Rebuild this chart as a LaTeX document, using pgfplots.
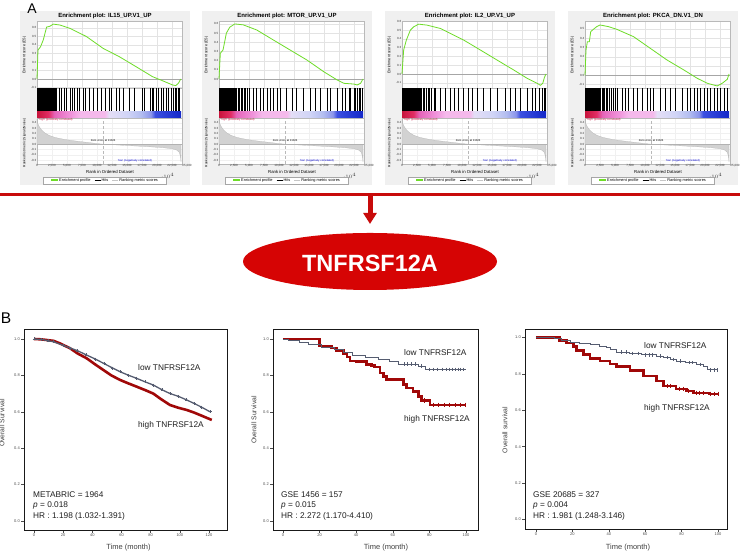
\documentclass[border=0pt]{standalone}
\usepackage{pgfplots}
\pgfplotsset{compat=1.18}
\usepackage{pgfplotstable}
\usepackage{fontspec}
\setmainfont{Liberation Sans}
\usetikzlibrary{arrows.meta}

\definecolor{gsgreen}{RGB}{110,220,40}
\definecolor{lowc}{RGB}{85,92,112}
\definecolor{highc}{RGB}{160,8,8}
\definecolor{redline}{RGB}{200,10,10}
\definecolor{ellred}{RGB}{214,4,4}
\definecolor{gseabg}{RGB}{240,240,240}
\definecolor{barA}{RGB}{200,20,60}
\definecolor{barA2}{RGB}{225,45,100}
\definecolor{barB}{RGB}{230,100,185}
\definecolor{barB2}{RGB}{240,150,220}
\definecolor{barC}{RGB}{245,185,235}
\definecolor{barD}{RGB}{228,222,246}
\definecolor{barD2}{RGB}{208,212,246}
\definecolor{barE}{RGB}{180,190,240}
\definecolor{barE2}{RGB}{140,150,235}
\definecolor{barF}{RGB}{60,80,225}
\definecolor{barG}{RGB}{20,40,200}

\pgfdeclarehorizontalshading{gseabar}{100bp}{color(0bp)=(barA); color(25bp)=(barA); color(29bp)=(barA2); color(31bp)=(barB); color(37bp)=(barB2); color(40bp)=(barC); color(48.5bp)=(barC); color(50bp)=(barD); color(56.5bp)=(barD2); color(61bp)=(barE); color(64.5bp)=(barE2); color(66bp)=(barF); color(75bp)=(barG); color(100bp)=(barG)}

\newcommand{\fs}[1]{\fontsize{#1}{#1}\selectfont}

% ---------- GSEA data ----------
\pgfplotstableread[row sep=\\]{r e\\ 0 0\\ 166 0.34\\ 600 0.38\\ 1050 0.46\\ 1600 0.61\\ 2150 0.62\\ 2700 0.645\\ 3800 0.635\\ 5460 0.596\\ 8220 0.50\\ 11020 0.36\\ 13700 0.263\\ 16500 0.145\\ 19260 0.027\\ 20900 -0.02\\ 22580 -0.07\\ 23130 -0.078\\ 23570 -0.05\\ 23960 0\\}\esA
\pgfplotstableread[row sep=\\]{r e\\ 0 0\\ 220 0.28\\ 670 0.316\\ 1230 0.5\\ 1790 0.564\\ 2630 0.6\\ 4025 0.59\\ 6260 0.535\\ 9060 0.425\\ 11850 0.316\\ 14650 0.207\\ 17440 0.08\\ 19680 -0.01\\ 20800 -0.047\\ 22470 -0.055\\ 23030 -0.065\\ 23590 -0.047\\ 24000 0\\}\esB
\pgfplotstableread[row sep=\\]{r e\\ 0 0\\ 278 0.272\\ 723 0.385\\ 1390 0.498\\ 1946 0.536\\ 2780 0.566\\ 4170 0.555\\ 6390 0.517\\ 10290 0.385\\ 13070 0.272\\ 15850 0.158\\ 18630 0.045\\ 20850 -0.049\\ 22520 -0.106\\ 23070 -0.128\\ 23460 -0.106\\ 23740 -0.038\\ 24000 0\\}\esC
\pgfplotstableread[row sep=\\]{r e\\ 0 0\\ 170 0.273\\ 390 0.363\\ 725 0.363\\ 950 0.471\\ 1395 0.496\\ 1950 0.525\\ 2510 0.543\\ 3910 0.525\\ 5300 0.496\\ 8090 0.417\\ 10880 0.291\\ 13670 0.165\\ 16460 0.058\\ 18690 -0.032\\ 20370 -0.086\\ 22040 -0.115\\ 22880 -0.086\\ 23720 -0.043\\ 24000 0.014\\}\esD

\pgfplotstableread[row sep=\\]{r h\\ 20 1\\ 150 1\\ 280 1\\ 400 1\\ 520 1\\ 650 1\\ 780 1\\ 900 1\\ 1030 1\\ 1150 1\\ 1280 1\\ 1400 1\\ 1550 1\\ 1680 1\\ 1800 1\\ 1950 1\\ 2100 1\\ 2250 1\\ 2400 1\\ 2550 1\\ 2700 1\\ 2850 1\\ 3000 1\\ 3200 1\\ 3700 1\\ 4085 1\\ 4470 1\\ 4910 1\\ 5465 1\\ 5900 1\\ 6290 1\\ 6680 1\\ 7120 1\\ 7670 1\\ 8060 1\\ 8780 1\\ 9440 1\\ 9990 1\\ 10710 1\\ 11430 1\\ 11980 1\\ 12360 1\\ 13190 1\\ 13745 1\\ 14410 1\\ 15400 1\\ 16230 1\\ 17500 1\\ 17890 1\\ 18820 1\\ 19150 1\\ 19375 1\\ 19820 1\\ 20260 1\\ 20645 1\\ 21030 1\\ 21470 1\\ 21915 1\\ 22300 1\\ 22690 1\\ 23020 1\\ 23240 1\\ 23570 1\\ 23790 1\\}\hitsA
\pgfplotstableread[row sep=\\]{r h\\ 30 1\\ 180 1\\ 330 1\\ 480 1\\ 640 1\\ 800 1\\ 950 1\\ 1100 1\\ 1250 1\\ 1400 1\\ 1560 1\\ 1720 1\\ 1880 1\\ 2050 1\\ 2200 1\\ 2380 1\\ 2550 1\\ 2750 1\\ 2950 1\\ 3150 1\\ 3400 1\\ 3650 1\\ 3900 1\\ 4150 1\\ 4450 1\\ 4750 1\\ 5100 1\\ 5700 1\\ 6260 1\\ 6930 1\\ 7380 1\\ 8050 1\\ 8610 1\\ 9060 1\\ 9730 1\\ 10290 1\\ 11290 1\\ 12130 1\\ 12860 1\\ 14090 1\\ 15200 1\\ 16040 1\\ 16880 1\\ 18000 1\\ 18560 1\\ 19680 1\\ 20520 1\\ 21070 1\\ 21630 1\\ 21910 1\\ 22470 1\\ 22750 1\\ 23030 1\\ 23310 1\\ 23590 1\\ 23870 1\\}\hitsB
\pgfplotstableread[row sep=\\]{r h\\ 40 1\\ 200 1\\ 360 1\\ 520 1\\ 680 1\\ 840 1\\ 1000 1\\ 1160 1\\ 1320 1\\ 1480 1\\ 1640 1\\ 1800 1\\ 1960 1\\ 2130 1\\ 2300 1\\ 2470 1\\ 2650 1\\ 2850 1\\ 3050 1\\ 3250 1\\ 3500 1\\ 3750 1\\ 4000 1\\ 4300 1\\ 4600 1\\ 4950 1\\ 5300 1\\ 5550 1\\ 6390 1\\ 7230 1\\ 8060 1\\ 8730 1\\ 9450 1\\ 10290 1\\ 11120 1\\ 11680 1\\ 12510 1\\ 13620 1\\ 14730 1\\ 15850 1\\ 17240 1\\ 18070 1\\ 18900 1\\ 19740 1\\ 20850 1\\ 21680 1\\ 22240 1\\ 22800 1\\ 23350 1\\ 23630 1\\ 23910 1\\}\hitsC
\pgfplotstableread[row sep=\\]{r h\\ 30 1\\ 180 1\\ 330 1\\ 480 1\\ 630 1\\ 780 1\\ 930 1\\ 1080 1\\ 1230 1\\ 1400 1\\ 1560 1\\ 1720 1\\ 1880 1\\ 2050 1\\ 2220 1\\ 2400 1\\ 2600 1\\ 2800 1\\ 3000 1\\ 3250 1\\ 3500 1\\ 3750 1\\ 4000 1\\ 4300 1\\ 4650 1\\ 5000 1\\ 5300 1\\ 6140 1\\ 6700 1\\ 7250 1\\ 8090 1\\ 8760 1\\ 9490 1\\ 10320 1\\ 10880 1\\ 11440 1\\ 12560 1\\ 13390 1\\ 14230 1\\ 15070 1\\ 16180 1\\ 17020 1\\ 17580 1\\ 18140 1\\ 18690 1\\ 19250 1\\ 19810 1\\ 20370 1\\ 20930 1\\ 21480 1\\ 22040 1\\ 22600 1\\ 23160 1\\ 23720 1\\}\hitsD

\pgfplotstableread[row sep=\\]{r m\\ 0 0\\ 0 0.45\\ 150 0.38\\ 400 0.32\\ 800 0.26\\ 1300 0.21\\ 2000 0.165\\ 3000 0.125\\ 4500 0.09\\ 6000 0.065\\ 8000 0.038\\ 10000 0.012\\ 11024 0\\ 13000 -0.012\\ 15000 -0.025\\ 17000 -0.037\\ 19000 -0.05\\ 21000 -0.065\\ 22500 -0.085\\ 23300 -0.11\\ 23700 -0.15\\ 23900 -0.22\\ 24000 -0.33\\ 24000 0\\}\rankdata

% ---------- KM data ----------
\pgfplotstableread[row sep=\\]{t s\\ 0 1\\ 5 0.998\\ 10 0.99\\ 13.3 0.985\\ 20 0.965\\ 25 0.95\\ 30 0.935\\ 36 0.912\\ 42 0.89\\ 48 0.865\\ 54 0.84\\ 59 0.82\\ 65 0.80\\ 70 0.785\\ 76 0.765\\ 81.8 0.747\\ 88 0.72\\ 93.3 0.70\\ 99 0.685\\ 104.7 0.665\\ 110 0.645\\ 115 0.625\\ 120.7 0.60\\}\kmAlow
\pgfplotstableread[row sep=\\]{t s\\ 0 1\\ 5 0.998\\ 10 0.993\\ 13.3 0.99\\ 18 0.975\\ 24.7 0.949\\ 30 0.92\\ 36.1 0.894\\ 42 0.86\\ 47.5 0.83\\ 53 0.80\\ 59 0.775\\ 65 0.755\\ 70.4 0.738\\ 76 0.72\\ 81.8 0.70\\ 87 0.67\\ 93.3 0.637\\ 99 0.622\\ 104.7 0.61\\ 110 0.595\\ 116 0.575\\ 121.9 0.555\\}\kmAhigh

\pgfplotstableread[row sep=\\]{t s\\ 0 1\\ 3 0.99\\ 9 0.98\\ 14 0.97\\ 21 0.955\\ 28 0.94\\ 33 0.925\\ 38 0.912\\ 45 0.9\\ 52 0.89\\ 58 0.875\\ 63 0.862\\ 74 0.85\\ 78 0.833\\ 100 0.833\\}\kmBlow
\pgfplotstableread[row sep=\\]{t s\\ 66 0.862\\ 68 0.862\\ 70 0.862\\ 72 0.862\\ 75.5 0.85\\ 80 0.833\\ 82 0.833\\ 84.5 0.833\\ 87 0.833\\ 89 0.833\\ 91 0.833\\ 92.5 0.833\\ 94 0.833\\ 95.5 0.833\\ 97 0.833\\ 98.5 0.833\\}\kmBlowc
\pgfplotstableread[row sep=\\]{t s\\ 0 1\\ 20 0.962\\ 26.6 0.95\\ 29.3 0.937\\ 33 0.92\\ 35 0.9\\ 36.6 0.88\\ 40 0.876\\ 45.7 0.86\\ 48.5 0.853\\ 50 0.845\\ 53 0.813\\ 55 0.795\\ 56.7 0.777\\ 65.7 0.75\\ 67.5 0.73\\ 71 0.711\\ 74 0.683\\ 75.8 0.662\\ 80.3 0.638\\ 100 0.638\\}\kmBhigh
\pgfplotstableread[row sep=\\]{t s\\ 77 0.662\\ 82 0.638\\ 85 0.638\\ 88 0.638\\ 91 0.638\\ 94 0.638\\ 97 0.638\\ 99.5 0.638\\}\kmBhighc

\pgfplotstableread[row sep=\\]{t s\\ 0 1\\ 10 0.995\\ 14 0.985\\ 18.7 0.975\\ 24 0.968\\ 29.7 0.962\\ 35 0.952\\ 38.8 0.943\\ 41 0.932\\ 44.3 0.92\\ 51.6 0.912\\ 58 0.905\\ 66.3 0.897\\ 70 0.89\\ 74 0.88\\ 77 0.87\\ 82 0.862\\ 88 0.852\\ 92 0.84\\ 94 0.822\\ 100 0.822\\}\kmClow
\pgfplotstableread[row sep=\\]{t s\\ 47 0.92\\ 49.5 0.92\\ 53 0.912\\ 56 0.912\\ 60 0.905\\ 62 0.905\\ 64 0.905\\ 68 0.897\\ 72 0.89\\ 75.5 0.88\\ 79 0.87\\ 84 0.862\\ 86 0.862\\ 90 0.852\\ 96 0.822\\ 98 0.822\\ 99.5 0.822\\}\kmClowc
\pgfplotstableread[row sep=\\]{t s\\ 0 1\\ 13 0.985\\ 16.8 0.97\\ 20.5 0.952\\ 22.3 0.93\\ 26 0.907\\ 29.7 0.883\\ 35.2 0.87\\ 40.7 0.855\\ 44.3 0.839\\ 51.6 0.82\\ 59 0.788\\ 66.3 0.76\\ 70 0.733\\ 77 0.718\\ 82.8 0.705\\ 86.4 0.696\\ 95 0.69\\ 100 0.69\\}\kmChigh
\pgfplotstableread[row sep=\\]{t s\\ 72 0.733\\ 74 0.733\\ 79 0.718\\ 81 0.718\\ 84 0.705\\ 88 0.696\\ 90 0.696\\ 92 0.696\\ 96 0.69\\ 98 0.69\\ 100 0.69\\}\kmChighc

\pgfplotsset{
  gseabase/.style={scale only axis, anchor=north west, width=145.2pt, xmin=0, xmax=24200,
    axis line style={gray!55, line width=0.3pt}, major tick length=0pt,
    ticklabel style={font=\fs{3}, text=black!80, inner sep=0.6pt},
    /pgf/number format/assume math mode=true,
    axis background/.style={fill=white}, clip=false},
  gseaes/.style={gseabase, height=67pt, xtick={0,2500,...,22500}, xticklabels={},
    grid=major, grid style={gray!22, line width=0.25pt},
    yticklabel style={/pgf/number format/.cd, fixed, fixed zerofill, precision=1}},
  gseahits/.style={gseabase, height=30pt, ymin=0, ymax=1, xtick=\empty, ytick=\empty},
  gsearank/.style={gseabase, height=46pt, ymin=-0.369, ymax=0.488,
    ytick={-0.3,-0.2,-0.1,0,0.1,0.2,0.3,0.4},
    xtick={0,2500,5000,7500,10000,12500,15000,17500,20000,22500},
    xticklabels={0,{2,500},{5,000},{7,500},{10,000},{12,500},{15,000},{17,500},{20,000},{22,500}},
    yticklabel style={/pgf/number format/.cd, fixed, fixed zerofill, precision=1},
    grid=major, grid style={gray!12, line width=0.2pt}},
  kmbase/.style={scale only axis, anchor=north west,
    axis line style={black!90, line width=0.9pt},
    tick style={black!70, line width=0.4pt}, tick align=outside, major tick length=3pt,
    xtick pos=bottom, ytick pos=left,
    ticklabel style={font=\fs{4}, text=black!70, inner sep=1pt},
    /pgf/number format/assume math mode=true,
    ytick={0,0.2,0.4,0.6,0.8,1}, yticklabels={0.0,0.2,0.4,0.6,0.8,1.0},
    axis background/.style={fill=white}, clip=false},
}

\newcommand{\gseapanel}[7]{%
  \fill[gseabg] (#1pt-17pt,542pt) rectangle (#1pt+153pt,368pt);
  \node[font=\bfseries\fs{6}, inner sep=0pt] at (#1pt+68pt,537pt) {#2};
  \node[rotate=90, font=\fs{3.7}, inner sep=0pt] at (#1pt-12.5pt,498pt) {Enrichment score (ES)};
  \node[rotate=90, font=\fs{3.3}, inner sep=0pt] at (#1pt-12.5pt,410pt) {Ranked list metric (Signal2Noise)};
  \begin{axis}[gseaes, at={(#1pt,532pt)}, ymin=#3, ymax=#4, ytick={#5}]
    \draw[gray!70, line width=0.35pt] (axis cs:0,0) -- (axis cs:24200,0);
    \addplot[gsgreen, line width=0.8pt, mark=none] table {#6};
  \end{axis}
  \begin{axis}[gseahits, at={(#1pt,465pt)}]
    \addplot[ycomb, black, line width=0.5pt, mark=none] table {#7};
    \shade[shading=gseabar] (axis cs:0,0) rectangle (axis cs:24000,0.2);
  \end{axis}
  \begin{axis}[gsearank, at={(#1pt,435pt)}]
    \addplot[fill=gray!35, draw=gray!60, line width=0.2pt, mark=none] table {\rankdata};
    \draw[gray!60, line width=0.3pt] (axis cs:0,0) -- (axis cs:24200,0);
    \draw[gray!55, densely dashed, line width=0.3pt] (axis cs:11024,-0.369) -- (axis cs:11024,0.488);
    \node[font=\fs{2.8}, inner sep=0pt] at (axis cs:11024,0.07) {Zero cross at 11024};
    \node[font=\fs{2.8}, text=barA, anchor=west, inner sep=0pt] at (axis cs:250,0.455) {'high' (positively correlated)};
    \node[font=\fs{2.8}, text=blue!80!black, inner sep=0pt] at (axis cs:16300,-0.3) {'low' (negatively correlated)};
    \node[font=\fs{3}, anchor=north, inner sep=0.6pt, text=black!80] at (axis cs:25000,-0.369) {25,000};
  \end{axis}
  \node[font=\fs{4.3}, inner sep=0pt] at (#1pt+73pt,381pt) {Rank in Ordered Dataset};
  \node[draw=gray!70, fill=white, line width=0.3pt, minimum width=123pt, minimum height=7.5pt, inner sep=0.5pt, font=\fs{3.9}] at (#1pt+67.5pt,372.5pt) {\textcolor{gsgreen}{\rule[0.9pt]{7pt}{1.2pt}}~Enrichment profile\quad\rule[1.1pt]{6pt}{0.4pt}~Hits\quad\textcolor{gray!45}{\rule[0.9pt]{6pt}{0.9pt}}~Ranking metric scores};
}

\begin{document}
\begin{tikzpicture}
\path[use as bounding box] (0pt,0pt) rectangle (740pt,553pt);

% GSEA panels
\gseapanel{37}{Enrichment plot: IL15\_UP.V1\_UP}{-0.106}{0.682}{-0.1,0,0.1,0.2,0.3,0.4,0.5,0.6}{\esA}{\hitsA}
\gseapanel{219}{Enrichment plot: MTOR\_UP.V1\_UP}{-0.098}{0.632}{-0.1,0,0.1,0.2,0.3,0.4,0.5,0.6}{\esB}{\hitsB}
\gseapanel{402}{Enrichment plot: IL2\_UP.V1\_UP}{-0.159}{0.602}{-0.1,0,0.1,0.2,0.3,0.4,0.5,0.6}{\esC}{\hitsC}
\gseapanel{585}{Enrichment plot: PKCA\_DN.V1\_DN}{-0.137}{0.586}{-0.1,0,0.1,0.2,0.3,0.4,0.5}{\esD}{\hitsD}

% panel letters (drawn on top)
\node[font=\fs{14}, inner sep=0pt, anchor=base] at (32pt,539.5pt) {A};
\node[font=\fs{15.5}, inner sep=0pt] at (6pt,235pt) {B};

% red line, arrow, ellipse
\draw[redline, line width=3pt] (0pt,358pt) -- (740pt,358pt);
\draw[redline, line width=5pt, -{Triangle[width=13pt,length=11pt]}] (370pt,358pt) -- (370pt,329pt);
\fill[ellred] (370pt,291.5pt) ellipse [x radius=127pt, y radius=28.5pt];
\node[text=white, font=\bfseries\fs{23.5}, inner sep=0pt] at (370pt,290pt) {TNFRSF12A};

% KM plot 1
\begin{axis}[kmbase, at={(24pt,224pt)}, width=203pt, height=201pt,
  xmin=-6.857, xmax=132.34, ymin=-0.0495, ymax=1.0549, xtick={0,20,40,60,80,100,120}]
  \addplot[highc, line width=2.6pt, mark=none] table {\kmAhigh};
  \addplot[lowc, line width=1.3pt, mark=+, mark size=1.5pt, mark options={line width=0.6pt}] table {\kmAlow};
\end{axis}
% KM plot 2
\begin{axis}[kmbase, at={(273pt,224pt)}, width=205pt, height=201pt,
  xmin=-5.46, xmax=106.56, ymin=-0.0495, ymax=1.0549, xtick={0,20,40,60,80,100}]
  \addplot[highc, line width=2.6pt, const plot, mark=none] table {\kmBhigh};
  \addplot[highc, only marks, mark=|, mark size=2.2pt, mark options={line width=0.8pt}] table {\kmBhighc};
  \addplot[lowc, line width=0.9pt, const plot, mark=none] table {\kmBlow};
  \addplot[lowc, only marks, mark=|, mark size=1.8pt, mark options={line width=0.5pt}] table {\kmBlowc};
\end{axis}
% KM plot 3
\begin{axis}[kmbase, at={(525pt,224pt)}, width=202pt, height=200pt,
  xmin=-6.04, xmax=104.95, ymin=-0.0522, ymax=1.0467, xtick={0,20,40,60,80,100}]
  \addplot[highc, line width=2.6pt, const plot, mark=none] table {\kmChigh};
  \addplot[highc, only marks, mark=|, mark size=2.2pt, mark options={line width=0.8pt}] table {\kmChighc};
  \addplot[lowc, line width=0.9pt, const plot, mark=none] table {\kmClow};
  \addplot[lowc, only marks, mark=|, mark size=1.8pt, mark options={line width=0.5pt}] table {\kmClowc};
\end{axis}

% KM texts
\begin{scope}[every node/.style={font=\fs{8.3}, text=black!88, inner sep=0pt, anchor=west}]
\node at (138pt,185pt) {low TNFRSF12A};
\node at (138pt,128pt) {high TNFRSF12A};
\node at (33pt,58pt) {METABRIC = 1964};
\node at (33pt,47.5pt) {\textit{p} = 0.018};
\node at (33pt,37pt) {HR : 1.198 (1.032-1.391)};
\node at (404pt,200pt) {low TNFRSF12A};
\node at (404pt,134pt) {high TNFRSF12A};
\node at (281pt,58pt) {GSE 1456 = 157};
\node at (281pt,47.5pt) {\textit{p} = 0.015};
\node at (281pt,37pt) {HR : 2.272 (1.170-4.410)};
\node at (644pt,207pt) {low TNFRSF12A};
\node at (644pt,145pt) {high TNFRSF12A};
\node at (533pt,58pt) {GSE 20685 = 327};
\node at (533pt,47.5pt) {\textit{p} = 0.004};
\node at (533pt,37pt) {HR : 1.981 (1.248-3.146)};
\end{scope}
\begin{scope}[every node/.style={text=black!75, inner sep=0pt}]
\node[font=\fs{7.5}] at (128.5pt,5pt) {Time (month)};
\node[font=\fs{7.5}] at (386pt,5pt) {Time (month)};
\node[font=\fs{7.5}] at (628pt,5pt) {Time (month)};
\node[font=\fs{6.8}, rotate=90] at (2pt,130pt) {Overall Survival};
\node[font=\fs{6.8}, rotate=90] at (254pt,133pt) {Overall Survival};
\node[font=\fs{6.8}, rotate=90] at (505pt,123pt) {Overall survival};
\end{scope}
\end{tikzpicture}
\end{document}
